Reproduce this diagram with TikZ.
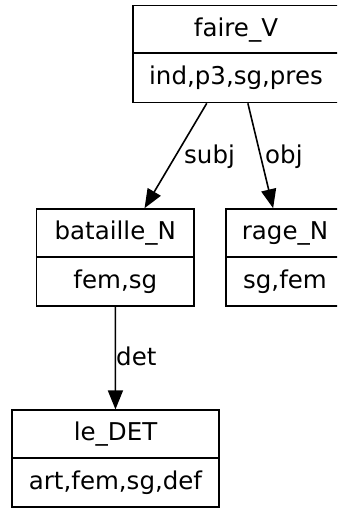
\documentclass[tikz,border=0pt]{standalone}
\usepackage{fontspec}
\setmainfont{DejaVu Sans}
\usetikzlibrary{arrows.meta}
\tikzset{
  rec/.style={draw=black, line width=1.6pt, rectangle, inner sep=0pt, minimum height=97pt},
  lbl/.style={inner sep=0pt, anchor=base, font=\fontsize{24.5pt}{29pt}\selectfont},
  elbl/.style={inner sep=0pt, anchor=base west, font=\fontsize{24.5pt}{29pt}\selectfont},
  arr/.style={draw=black, line width=1.6pt, -{Triangle[length=19pt,width=15pt]}},
  divider/.style={draw=black, line width=1.6pt}
}
\newcommand{\recnode}[5]{%
  % #1 name, #2 centre, #3 width, #4 top text, #5 bottom text
  \node[rec, minimum width=#3] (#1) at (#2) {};
  \draw[divider] ([yshift=-48.5pt]#1.north west) -- ([yshift=-48.5pt]#1.north east);
  \node[lbl] (#1T) at ([yshift=-31.5pt]#1.north) {#4};
  \node[lbl] (#1B) at ([yshift=-80pt]#1.north) {#5};
}
\begin{document}
\begin{tikzpicture}[x=1pt, y=1pt]
  \useasboundingbox (0,0) rectangle (337,-508);
  \clip (0,0) rectangle (337,-508);
  \recnode{faire}{236,-54}{206pt}{faire\_V}{ind,p3,sg,pres}
  \recnode{bataille}{115.3,-257.5}{157.3pt}{bataille\_N}{fem,sg}
  \recnode{rage}{285,-257.5}{118pt}{rage\_N}{sg,fem}
  \recnode{le}{115.5,-458.7}{207pt}{le\_DET}{art,fem,sg,def}
  \draw[arr] (faire) -- (bataille);
  \draw[arr] (faire) -- (rage);
  \draw[arr] (bataille) -- (le);
  \node[elbl] (lsubj) at (184,-163) {subj};
  \node[elbl] (lobj) at (265,-163) {obj};
  \node[elbl] (ldet) at (116,-365) {det};
\end{tikzpicture}
\end{document}
